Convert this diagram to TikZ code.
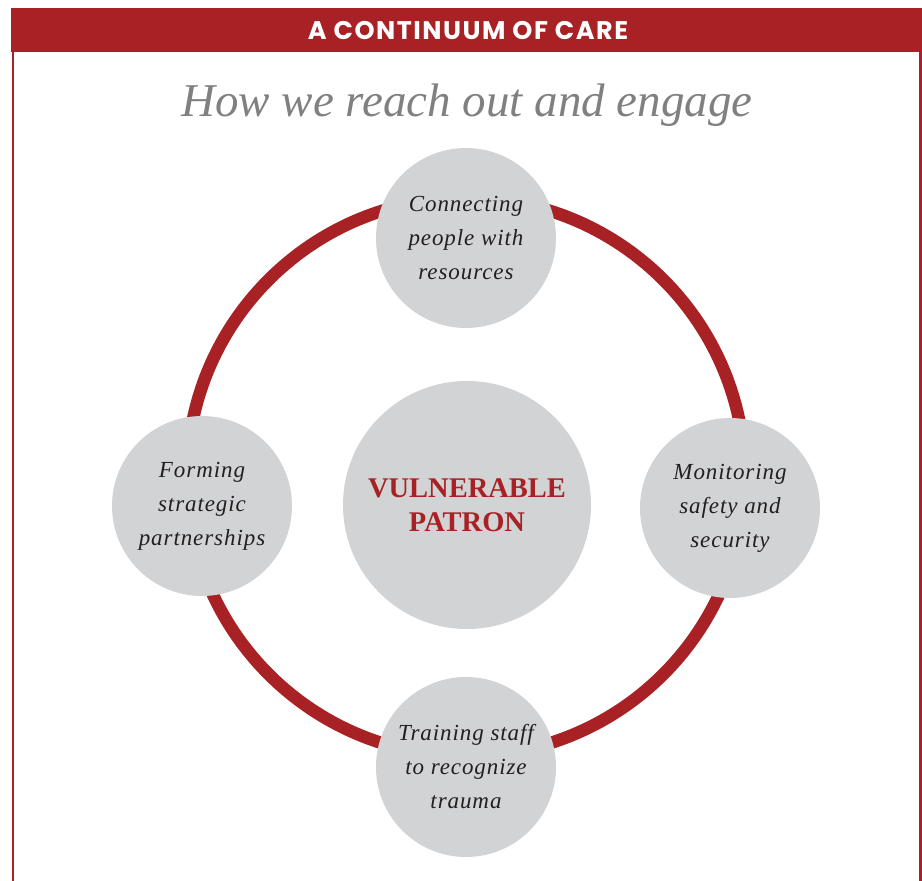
\documentclass[tikz,border=0pt]{standalone}
\usepackage{fontspec}
\setmainfont{Liberation Serif}
\newfontfamily\headfont{Poppins}[LetterSpace=6]
\newfontfamily\stagefont{Liberation Serif}[LetterSpace=4]
\usepackage{xcolor}
\definecolor{carered}{RGB}{167,33,37}
\definecolor{circgray}{RGB}{209,211,212}
\definecolor{titlegray}{RGB}{128,128,130}
\definecolor{inktext}{RGB}{35,31,32}

\tikzset{
  stage/.style={circle,fill=circgray,minimum size=180pt,inner sep=0pt,align=center,
    text=inktext,font=\stagefont\fontsize{23}{34}\selectfont\itshape},
  hub/.style={circle,fill=circgray,minimum size=248pt,inner sep=0pt,align=center,
    text=carered,font=\fontsize{28.5}{34}\selectfont\bfseries},
  ring/.style={draw=carered,line width=12.5pt}
}

\begin{document}
\begin{tikzpicture}[x=1pt,y=-1pt]
    \useasboundingbox (0,0) rectangle (922,881);
    % frame and heading
    \fill [carered] (11,8) rectangle (922,52);
    \draw [carered,line width=2.2pt] (13,52) -- (13,881);
    \draw [carered,line width=2.2pt] (920.5,52) -- (920.5,881);
    \node (head) at (468,31) [text=white,font=\headfont\bfseries\fontsize{25.5}{27}\selectfont]
        {A CONTINUUM OF CARE};
    \node (title) at (467,105) [text=titlegray,font=\fontsize{47}{50}\selectfont\itshape]
        {How we reach out and engage};

    % the cycle
    \coordinate (mid) at (466,477);
    \draw [ring] (mid) circle (279);

    \node [hub] (patron) at (467,505) {VULNERABLE\\PATRON};
    \node [stage] (connect) at (466,238) {Connecting\\people with\\resources};
    \node [stage] (monitor) at (730,508) {Monitoring\\safety and\\security};
    \node [stage] (train) at (466,767) {Training staff\\to recognize\\trauma};
    \node [stage] (partner) at (202,506) {Forming\\strategic\\partnerships};
\end{tikzpicture}
\end{document}
